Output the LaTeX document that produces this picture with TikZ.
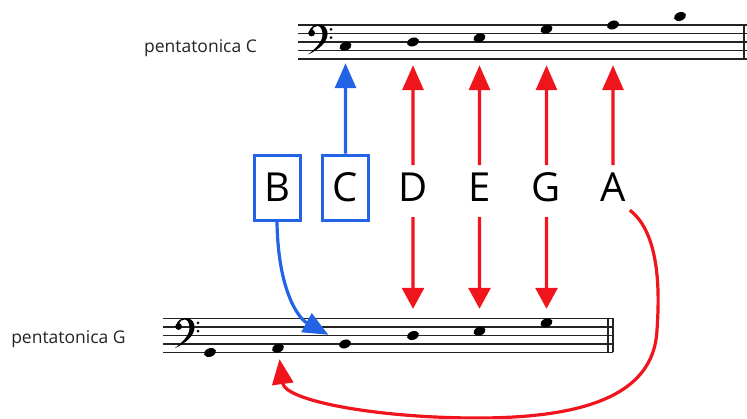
\documentclass[tikz,border=0pt]{standalone}
\usepackage{fontspec}
\setmainfont{Open Sans}
\usetikzlibrary{arrows.meta,shapes.geometric}
\definecolor{myred}{RGB}{240,20,28}
\definecolor{myblue}{RGB}{35,100,230}
\definecolor{ink}{RGB}{35,35,35}
\tikzset{
  staffline/.style={draw=ink, line width=1.2pt},
  notehead/.style={ellipse, fill=black, inner sep=0pt, minimum width=12.5pt, minimum height=8.5pt, rotate=20},
  letternode/.style={font=\fontsize{40}{40}\selectfont, text height=28.6pt, text depth=0pt, inner xsep=4pt, inner ysep=8pt, anchor=base},
  boxed/.style={letternode, draw=myblue, line width=3pt, minimum width=46pt, minimum height=65pt},
  scalelabel/.style={font=\fontsize{17.5}{20}\selectfont, text=ink, anchor=base, inner sep=0pt},
  redarr/.style={draw=myred, line width=3.2pt, -{Triangle[length=25pt,width=21pt]}},
  reddown/.style={draw=myred, line width=3.2pt, -{Triangle[length=21pt,width=22pt]}},
  bluearr/.style={draw=myblue, line width=3.2pt, -{Triangle[length=25pt,width=21pt]}},
  bassclef/.pic={
    \fill (1,-1) .. controls (2,-7) and (7,-9) .. (11,-9) .. controls (17,-9) and (20,-4) .. (19.5,1)
      .. controls (19,9) and (11,16) .. (0,21) .. controls (8,15) and (14.5,8) .. (14.5,1)
      .. controls (14.5,-4) and (12.5,-7.5) .. (9.5,-7.5) .. controls (6.5,-7.5) and (4.5,-5.5) .. (4,-3) -- cycle;
    \fill (3.6,-0.5) circle (3.4);
    \fill (23,-4.2) circle (1.5);
    \fill (23,4.2) circle (1.5);
  }
}
\begin{document}
\begin{tikzpicture}[x=1pt,y=-1pt]
\useasboundingbox (0,0) rectangle (747,419);

% labels
\node[scalelabel] (labC) at (200.5,52.7) {pentatonica C};
\node[scalelabel] (labG) at (68.5,343.3) {pentatonica G};

% top staff
\foreach \k in {0,...,4} \draw[staffline] (298,25+8.5*\k) -- (747,25+8.5*\k);
\draw[staffline] (744,25) -- (744,59);
\pic at (308,33.5) {bassclef};

% bottom staff
\foreach \k in {0,...,4} \draw[staffline] (163,318.5+8.5*\k) -- (613,318.5+8.5*\k);
\draw[staffline] (608,318.5) -- (608,352.5);
\draw[staffline] (613,318.5) -- (613,352.5);
\pic at (175,327) {bassclef};

% top notes
\node[notehead] (tC) at (345.5,46.25) {};
\node[notehead] (tD) at (413,42) {};
\node[notehead] (tE) at (479.5,37.75) {};
\node[notehead] (tG) at (546.5,29.25) {};
\node[notehead] (tA) at (613,25) {};
\node[notehead] (tC4) at (680,16.5) {};

% bottom notes
\node[notehead] (bG) at (210,352.5) {};
\node[notehead] (bA) at (278,348.25) {};
\node[notehead] (bB) at (345,344) {};
\node[notehead] (bD) at (413,335.5) {};
\node[notehead] (bE) at (479.5,331.25) {};
\node[notehead] (bG3) at (546.5,322.75) {};

% letters
\node[boxed] (B) at (277,202) {B};
\node[boxed] (C) at (345.5,202) {C};
\node[letternode] (D) at (413,202) {D};
\node[letternode] (E) at (479.5,202) {E};
\node[letternode] (G) at (546.5,202) {G};
\node[letternode] (A) at (613,202) {A};

% upward arrows
\draw[bluearr, shorten >=12.4pt] (C.north) -- (tC);
\draw[redarr, shorten >=18.6pt] (D.north) -- (tD);
\draw[redarr, shorten >=22.9pt] (E.north) -- (tE);
\draw[redarr, shorten >=31.4pt] (G.north) -- (tG);
\draw[redarr, shorten >=35.6pt] (A.north) -- (tA);

% downward arrows
\draw[reddown, shorten <=7pt, shorten >=22.1pt] (D.south) -- (bD);
\draw[reddown, shorten <=7pt, shorten >=17.9pt] (E.south) -- (bE);
\draw[reddown, shorten <=7pt, shorten >=9.4pt] (G.south) -- (bG3);

% curved arrows
\draw[bluearr, shorten >=14pt] (B.south) .. controls (278,290) and (298,318) .. (bB);
\draw[redarr, shorten >=6.5pt] (A.south east) .. controls (662,235) and (659,300) .. (657,330)
  .. controls (654,395) and (585,419) .. (470,418) .. controls (370,417) and (285,400) .. (bA);
\end{tikzpicture}
\end{document}
